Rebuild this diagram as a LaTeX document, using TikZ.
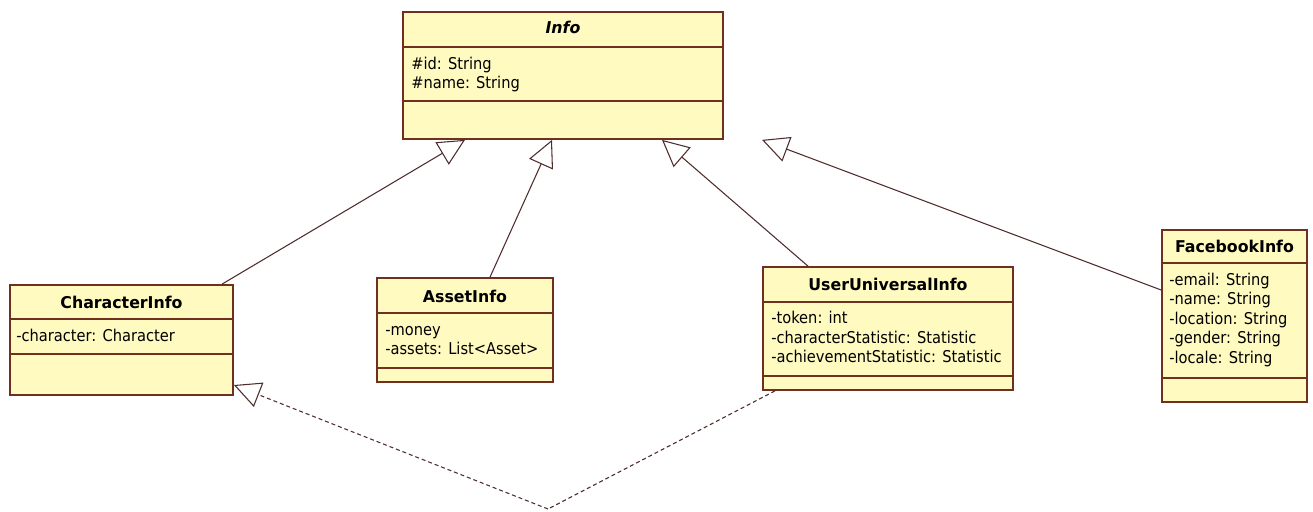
\documentclass[tikz,border=0pt]{standalone}
\usepackage{fontspec}
\setmainfont{DejaVu Sans}[FakeStretch=0.9]
\newfontfamily\titlefont{DejaVu Sans}[FakeStretch=0.97]
\usetikzlibrary{arrows.meta,fit}
\definecolor{boxfill}{RGB}{255,250,192}
\definecolor{boxdraw}{RGB}{112,48,32}
\definecolor{linecol}{RGB}{80,45,45}
\tikzset{
  umlbox/.style={draw=boxdraw, fill=boxfill, line width=1.3pt, inner sep=0pt, rectangle},
  sepline/.style={draw=boxdraw, line width=1.3pt},
  attr/.style={anchor=base west, inner sep=0pt, font=\fontsize{12.2}{15}\selectfont},
  title/.style={anchor=base, inner sep=0pt, font=\titlefont\bfseries\fontsize{12.2}{15}\selectfont},
  gen/.style={draw=linecol, line width=0.8pt, -{Triangle[open, length=20pt, width=19.5pt, fill=white]}},
  real/.style={draw=linecol, line width=0.8pt, dash pattern=on 3pt off 2.2pt},
}
\begin{document}
\begin{tikzpicture}[x=0.75pt,y=-0.75pt]
\useasboundingbox (0,0) rectangle (1313,511);

% Info
\node[umlbox, fit={(403,12) (723,139)}] (info) {};
\draw[sepline] (info.west |- 0,47) -- (info.east |- 0,47);
\draw[sepline] (info.west |- 0,101) -- (info.east |- 0,101);
\node[title, font=\titlefont\bfseries\itshape\fontsize{12.2}{15}\selectfont] (infoT) at (563,33) {Info};
\node[attr] (infoA1) at (411,69) {\#id: String};
\node[attr] (infoA2) at (411,88.5) {\#name: String};

% CharacterInfo
\node[umlbox, fit={(10,285) (233,395)}] (char) {};
\draw[sepline] (char.west |- 0,319) -- (char.east |- 0,319);
\draw[sepline] (char.west |- 0,354) -- (char.east |- 0,354);
\node[title] (charT) at (121.5,308) {CharacterInfo};
\node[attr] (charA1) at (16,341) {-character: Character};

% AssetInfo
\node[umlbox, fit={(377,278) (553,382)}] (asset) {};
\draw[sepline] (asset.west |- 0,313) -- (asset.east |- 0,313);
\draw[sepline] (asset.west |- 0,368) -- (asset.east |- 0,368);
\node[title] (assetT) at (465,302) {AssetInfo};
\node[attr] (assetA1) at (385,335) {-money};
\node[attr] (assetA2) at (385,354) {-assets: List<Asset>};

% UserUniversalInfo
\node[umlbox, fit={(763,267) (1013,390)}] (user) {};
\draw[sepline] (user.west |- 0,302) -- (user.east |- 0,302);
\draw[sepline] (user.west |- 0,376) -- (user.east |- 0,376);
\node[title] (userT) at (888,290) {UserUniversalInfo};
\node[attr] (userA1) at (771,323.5) {-token: int};
\node[attr] (userA2) at (771,343) {-characterStatistic: Statistic};
\node[attr] (userA3) at (771,362.5) {-achievementStatistic: Statistic};

% FacebookInfo
\node[umlbox, fit={(1162,230) (1307,402)}] (fb) {};
\draw[sepline] (fb.west |- 0,263) -- (fb.east |- 0,263);
\draw[sepline] (fb.west |- 0,378) -- (fb.east |- 0,378);
\node[title] (fbT) at (1234.5,252) {FacebookInfo};
\node[attr] (fbA1) at (1169,285) {-email: String};
\node[attr] (fbA2) at (1169,304.5) {-name: String};
\node[attr] (fbA3) at (1169,324) {-location: String};
\node[attr] (fbA4) at (1169,343.5) {-gender: String};
\node[attr] (fbA5) at (1169,363) {-locale: String};

% Generalizations
\draw[gen] (222,0 |- char.north) -- (465,0 |- info.south);
\draw[gen] (490,0 |- asset.north) -- (552,0 |- info.south);
\draw[gen] (808,0 |- user.north) -- (662,0 |- info.south);
\draw[gen] (fb.west |- 0,290) -- (762,0 |- info.south);

% Realization (dashed, with bend)
\coordinate (bend) at (548,509);
\draw[real] (775,0 |- user.south) -- (bend);
\draw[real, -{Triangle[open, length=20pt, width=19.5pt, fill=white]}] (bend) -- (char.east |- 0,385);
\end{tikzpicture}
\end{document}
